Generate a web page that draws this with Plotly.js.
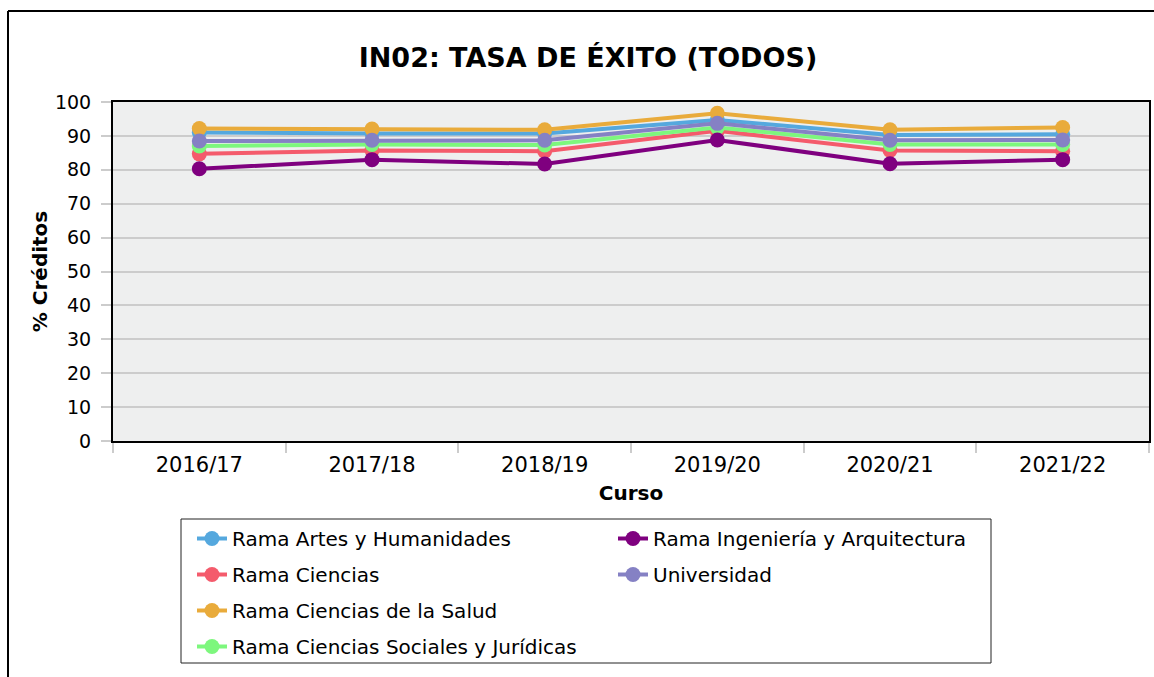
<!DOCTYPE html>
<html>
<head>
<meta charset="utf-8">
<script src="https://cdn.plot.ly/plotly-3.0.1.min.js"></script>
<style>html,body{margin:0;padding:0;background:#fff;}#chart{width:1154px;height:677px;}</style>
</head>
<body>
<div id="chart"></div>
<script>
const categories = ["2016/17", "2017/18", "2018/19", "2019/20", "2020/21", "2021/22"];
const seriesNames = [
  "Rama Artes y Humanidades",
  "Rama Ciencias",
  "Rama Ciencias de la Salud",
  "Rama Ciencias Sociales y Jurídicas",
  "Rama Ingeniería y Arquitectura",
  "Universidad"
];
const artes = [91.0, 90.7, 90.7, 94.7, 90.3, 90.5];
const ciencias = [84.7, 85.7, 85.5, 91.5, 85.7, 85.5];
const salud = [92.2, 92.0, 91.8, 96.7, 91.8, 92.5];
const sociales = [87.0, 87.5, 87.3, 92.5, 87.5, 87.5];
const ingenieria = [80.3, 83.0, 81.7, 88.8, 81.8, 83.0];
const universidad = [88.5, 88.7, 88.7, 93.7, 88.7, 88.8];
const seriesValues = [artes, ciencias, salud, sociales, ingenieria, universidad];
const colors = ["#55a8de", "#f45b6c", "#e9ab3b", "#7df77d", "#7f007f", "#8581c4"];
const legendOf = ["legend", "legend", "legend", "legend", "legend2", "legend2"];

const data = seriesNames.map((name, i) => ({
  type: "scatter",
  mode: "lines+markers",
  name: name,
  x: categories,
  y: seriesValues[i],
  line: {color: colors[i], width: 4},
  marker: {color: colors[i], size: 15},
  legend: legendOf[i],
  legendgroup: "g" + i
}));

const W = 1154, H = 677, L = 113, R = 5, T = 102, B = 236;
const pw = W - L - R, ph = H - T - B;
const px = v => (v - L) / pw;
const py = v => (H - B - v) / ph;

const legendFont = {family: "DejaVu Sans, sans-serif", size: 20, color: "#000"};

const layout = {
  width: W, height: H,
  margin: {l: L, r: R, t: T, b: B},
  paper_bgcolor: "#ffffff",
  plot_bgcolor: "#eeefef",
  showlegend: true,
  title: {
    text: "IN02: TASA DE ÉXITO (TODOS)",
    font: {family: "DejaVu Sans, sans-serif", size: 27, color: "#000", weight: "bold"},
    xref: "container", yref: "container",
    x: 588 / W, xanchor: "center",
    y: 1 - 58 / H, yanchor: "middle"
  },
  xaxis: {
    type: "category",
    range: [-0.5, 5.5],
    showgrid: false,
    tickson: "boundaries",
    ticks: "outside", ticklen: 10, tickwidth: 2, tickcolor: "#cccccc",
    ticklabelstandoff: 4,
    showline: true, linecolor: "#000", linewidth: 2, mirror: true,
    tickfont: {family: "DejaVu Sans, sans-serif", size: 21, color: "#000"},
    title: {text: "Curso", font: {family: "DejaVu Sans, sans-serif", size: 20, color: "#000", weight: "bold"}, standoff: 10},
    automargin: false,
    fixedrange: true
  },
  yaxis: {
    range: [0, 100],
    dtick: 10,
    showgrid: true, gridcolor: "#cccccc", gridwidth: 2,
    zeroline: false,
    ticks: "outside", ticklen: 10, tickwidth: 2, tickcolor: "#cccccc",
    ticklabelstandoff: 6,
    showline: true, linecolor: "#000", linewidth: 2, mirror: true,
    tickfont: {family: "DejaVu Sans, sans-serif", size: 19, color: "#000"},
    title: {text: "% Créditos", font: {family: "DejaVu Sans, sans-serif", size: 20, color: "#000", weight: "bold"}, standoff: 2},
    automargin: false,
    fixedrange: true
  },
  legend: {
    x: px(192), xanchor: "left",
    y: py(519), yanchor: "top",
    font: legendFont,
    bgcolor: "rgba(0,0,0,0)",
    traceorder: "grouped",
    tracegroupgap: 7,
    borderwidth: 0
  },
  legend2: {
    x: px(613), xanchor: "left",
    y: py(519), yanchor: "top",
    font: legendFont,
    bgcolor: "rgba(0,0,0,0)",
    traceorder: "grouped",
    tracegroupgap: 7,
    borderwidth: 0
  },
  shapes: [
    {type: "rect", xref: "paper", yref: "paper", x0: px(181), x1: px(991), y0: py(519), y1: py(663),
     line: {color: "#222", width: 1}, fillcolor: "rgba(0,0,0,0)", layer: "above"},
    {type: "line", xref: "paper", yref: "paper", x0: px(8), x1: px(8), y0: py(677), y1: py(11),
     line: {color: "#000", width: 2}, layer: "above"},
    {type: "line", xref: "paper", yref: "paper", x0: px(8), x1: px(1154), y0: py(11), y1: py(11),
     line: {color: "#000", width: 2}, layer: "above"}
  ]
};

Plotly.newPlot("chart", data, layout, {displayModeBar: false, staticPlot: true});
</script>
</body>
</html>
